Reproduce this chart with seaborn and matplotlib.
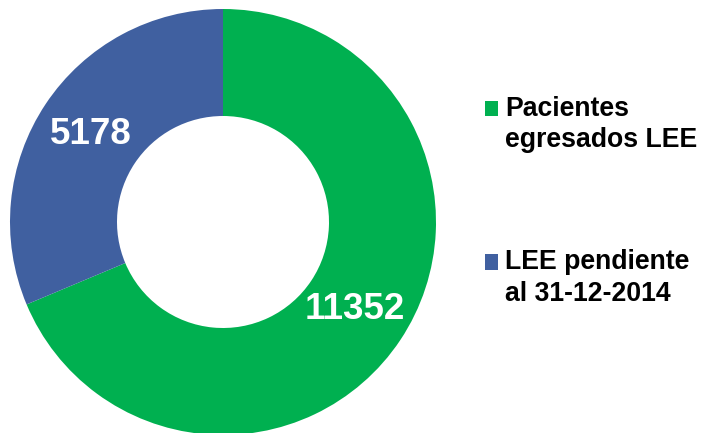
import matplotlib
matplotlib.use("Agg")
import matplotlib.pyplot as plt
import seaborn as sns
import numpy as np

categories = ["Pacientes\negresados LEE", "LEE pendiente\nal 31-12-2014"]
values = [11352, 5178]
colors = ["#00B050", "#4060A0"]

sns.set_theme(style="white")
plt.rcParams["font.family"] = ["Liberation Sans", "DejaVu Sans"]

W, H = 703, 433
fig = plt.figure(figsize=(W / 100, H / 100), dpi=100)
ax = fig.add_axes([0, 0, 1, 1])

total = sum(values)
wedges, texts, autotexts = ax.pie(
    values,
    colors=colors,
    startangle=90,
    counterclock=False,
    center=(223, H - 222),
    radius=213,
    wedgeprops=dict(width=107, edgecolor="none"),
    autopct=lambda p: f"{round(p * total / 100)}",
    pctdistance=0.745,
    textprops=dict(color="white", fontsize=26.5, fontweight="bold"),
    frame=True,
)
ax.set_xlim(0, W)
ax.set_ylim(0, H)
ax.set_aspect("equal")
ax.axis("off")

fs = 19.2
leg = ax.legend(
    wedges,
    categories,
    loc="upper left",
    bbox_to_anchor=(485 / W, 1 - 96 / H),
    frameon=False,
    prop=dict(weight="bold", size=fs),
    handlelength=0.5,
    handleheight=0.5,
    handletextpad=0.25,
    labelspacing=3.6,
    borderaxespad=0,
    borderpad=0,
)
for t in leg.get_texts():
    t.set_linespacing(1.27)
    t.set_color("black")
for h in leg.legend_handles:
    h.set_y(h.get_y() + 12)

fig.savefig("out.png", dpi=100)
